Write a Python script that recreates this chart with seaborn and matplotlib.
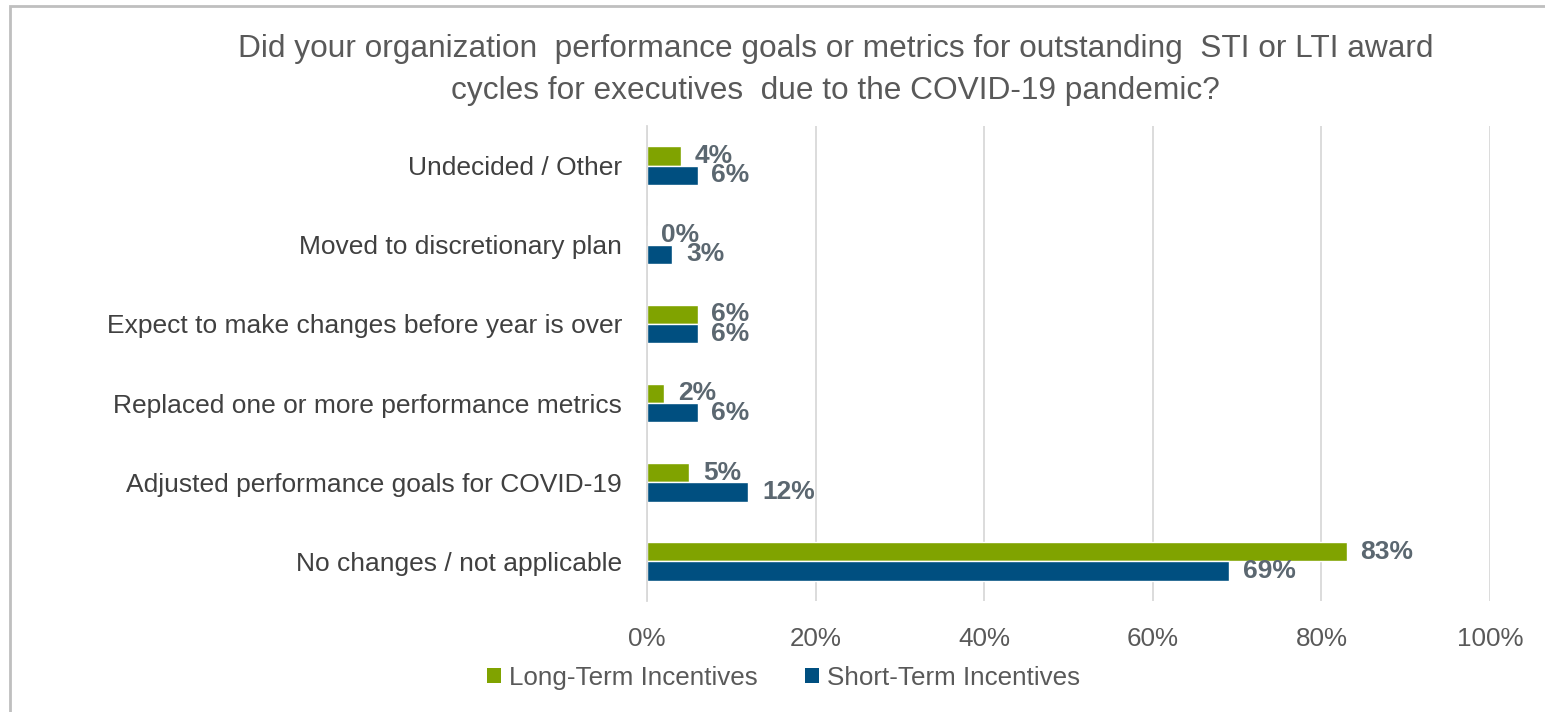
import matplotlib
matplotlib.use("Agg")
import matplotlib.pyplot as plt
import seaborn as sns
import pandas as pd
from matplotlib.patches import Rectangle, Patch

categories = [
    "Undecided / Other",
    "Moved to discretionary plan",
    "Expect to make changes before year is over",
    "Replaced one or more performance metrics",
    "Adjusted performance goals for COVID-19",
    "No changes / not applicable",
]
series = ["Long-Term Incentives", "Short-Term Incentives"]
lti_values = [4, 0, 6, 2, 5, 83]
sti_values = [6, 3, 6, 6, 12, 69]
x_ticks = [0, 20, 40, 60, 80, 100]
title = ("Did your organization  performance goals or metrics for outstanding  STI or LTI award\n"
         "cycles for executives  due to the COVID-19 pandemic?")

colors = {"Long-Term Incentives": "#80A300", "Short-Term Incentives": "#004F80"}

df = pd.DataFrame({
    "category": categories * 2,
    "series": [series[0]] * len(categories) + [series[1]] * len(categories),
    "value": lti_values + sti_values,
})

sns.set_theme(style="white")
plt.rcParams["font.family"] = ["Liberation Sans", "DejaVu Sans"]

fig = plt.figure(figsize=(15.45, 7.12), dpi=100)
ax = fig.add_axes([647 / 1545, 1 - 601 / 712, (1490 - 647) / 1545, (601 - 126) / 712])

sns.barplot(data=df, y="category", x="value", hue="series", order=categories,
            hue_order=series, palette=colors, width=0.49, orient="h",
            ax=ax, legend=False, saturation=1)

ax.set_xlim(0, 100)
ax.set_xticks(x_ticks)
ax.set_xticklabels([f"{t}%" for t in x_ticks], fontsize=18.7, color="#595959")
ax.tick_params(axis="y", labelsize=19, labelcolor="#404040", length=0, pad=18)
ax.tick_params(axis="x", length=0, pad=19)
ax.set_xlabel("")
ax.set_ylabel("")
ax.grid(axis="x", color="#D9D9D9", linewidth=1.3)
ax.set_axisbelow(True)
for s in ["top", "right", "bottom"]:
    ax.spines[s].set_visible(False)
ax.spines["left"].set_color("#D9D9D9")
ax.spines["left"].set_linewidth(1.3)

for container in ax.containers:
    ax.bar_label(container, labels=[f"{int(v)}%" for v in container.datavalues],
                 padding=10, fontsize=19, fontweight="bold", color="#5B6770")

fig.text(0.541, 0.902, title, ha="center", va="center", fontsize=22.8,
         color="#595959", linespacing=1.5)

handles = [Patch(facecolor=colors[s], edgecolor="none") for s in series]
fig.legend(handles, series, loc="center", bbox_to_anchor=(0.507, 0.048), ncol=2,
           frameon=False, fontsize=18.7, labelcolor="#595959", handlelength=0.55,
           handleheight=0.55, handletextpad=0.3, columnspacing=1.8)

fig.add_artist(Rectangle((10 / 1545, -0.05), 1.1, 1 - 6 / 712 + 0.05,
                         transform=fig.transFigure, fill=False,
                         edgecolor="#BFBFBF", linewidth=2))

fig.savefig("out.png", dpi=100)
